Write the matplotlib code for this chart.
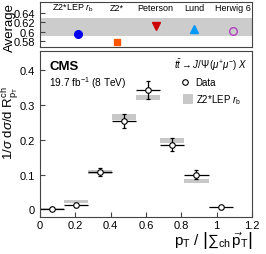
import matplotlib
matplotlib.use("Agg")
import matplotlib.pyplot as plt
import numpy as np

plt.rcParams["font.family"] = ["Liberation Sans", "DejaVu Sans"]
plt.rcParams["mathtext.fontset"] = "custom"
plt.rcParams["mathtext.rm"] = "Liberation Sans"
plt.rcParams["mathtext.it"] = "Liberation Sans:italic"
plt.rcParams["mathtext.bf"] = "Liberation Sans:bold"

# top panel: average of the distribution
models = ["Z2*LEP $r_\\mathrm{b}$", "Z2*", "Peterson", "Lund", "Herwig 6"]
model_avg = [0.596, 0.579, 0.612, 0.6055, 0.6005]
model_err = [0.008, 0.0, 0.0, 0.0, 0.0]
data_avg = 0.609
data_avg_err = 0.019

# bottom panel: normalised distribution
bin_edges = [0.0, 0.1364, 0.2727, 0.4091, 0.5455, 0.6818, 0.8182, 0.9545, 1.0909]
data_vals = [0.002, 0.012, 0.108, 0.253, 0.343, 0.186, 0.100, 0.006]
data_errs = [0.004, 0.006, 0.011, 0.020, 0.025, 0.018, 0.014, 0.005]
mc_vals = [0.002, 0.022, 0.108, 0.265, 0.322, 0.197, 0.081, 0.006]
mc_errs = [0.002, 0.004, 0.006, 0.008, 0.008, 0.007, 0.005, 0.002]

styles = [("o", "#0000ee", "#0000ee", 5.5),
          ("s", "#ff5500", "#ff5500", 5),
          ("v", "#cc0000", "#cc0000", 5.5),
          ("^", "#0099ff", "#0099ff", 5.5),
          ("o", "none", "#b040c0", 5.5)]

fig = plt.figure(figsize=(2.66, 2.55), dpi=100)
ax_top = fig.add_axes([0.150, 0.812, 0.797, 0.176])
ax = fig.add_axes([0.150, 0.145, 0.797, 0.651])

frame = "#444444"
for a in (ax_top, ax):
    for s in a.spines.values():
        s.set_color(frame)
        s.set_linewidth(0.8)
    a.tick_params(direction="in", labelsize=8, color=frame, length=3.5, width=0.8)

# --- top panel
xpos = np.arange(len(models))
ax_top.axhspan(data_avg - data_avg_err, data_avg + data_avg_err, color="#cccccc", lw=0)
for i, (m, fc, ec, ms) in enumerate(styles):
    if model_err[i] > 0:
        ax_top.errorbar(xpos[i], model_avg[i], yerr=model_err[i], fmt="none",
                        ecolor=ec, elinewidth=1)
    ax_top.plot(xpos[i], model_avg[i], marker=m, ms=ms, mfc=fc, mec=ec, mew=1, ls="none")
    ax_top.text(xpos[i] - (0.15 if i == 0 else 0), 0.6505, models[i], ha="center",
                va="center", fontsize=6.5)
ax_top.set_xlim(-1.0, 4.5)
ax_top.set_ylim(0.568, 0.662)
ax_top.set_xticks([])
ax_top.set_yticks([0.58, 0.60, 0.62, 0.64])
ax_top.set_yticklabels(["0.58", "0.6", "0.62", "0.64"])
ax_top.set_ylabel("Average", fontsize=9.5)
ax_top.yaxis.set_label_coords(-0.115, 0.45)

# --- bottom panel
edges = np.array(bin_edges)
centers = 0.5 * (edges[:-1] + edges[1:])
widths = np.diff(edges)
mc_vals = np.array(mc_vals)
mc_errs = np.array(mc_errs)
ax.bar(centers, 2 * mc_errs, bottom=mc_vals - mc_errs, width=widths,
       color="#c8c8c8", lw=0, zorder=1)
ax.errorbar(centers, data_vals, xerr=widths / 2, fmt="none", ecolor="black",
            elinewidth=0.9, zorder=2)
ax.errorbar(centers, data_vals, yerr=data_errs, fmt="none", ecolor="black",
            elinewidth=0.9, capsize=1.5, capthick=0.9, zorder=2)
ax.plot(centers, data_vals, "o", ms=4, mfc="white", mec="black", mew=0.8, zorder=3)

ax.set_xlim(0, 1.2)
ax.set_ylim(-0.022, 0.455)
ax.set_xticks([0, 0.2, 0.4, 0.6, 0.8, 1.0, 1.2])
ax.set_xticklabels(["0", "0.2", "0.4", "0.6", "0.8", "1", "1.2"])
ax.set_yticks([0, 0.1, 0.2, 0.3, 0.4])
ax.set_yticklabels(["0", "0.1", "0.2", "0.3", "0.4"])
ax.tick_params(axis="x", pad=2)

ax.set_ylabel(r"1/$\sigma$ d$\sigma$/d R$^{\mathrm{ch}}_{\mathrm{p_T}}$", fontsize=9.5)
ax.yaxis.set_label_coords(-0.09, 0.57)
fig.text(0.95, 0.055,
         r"$\mathrm{p_T}\ /\ \left|{\sum}_{\mathrm{ch}}\,\vec{\mathrm{p}}_\mathrm{T}\right|$",
         fontsize=11, ha="right", va="center")

ax.text(0.045, 0.91, "CMS", transform=ax.transAxes, fontsize=9.5,
        fontweight="bold", va="center")
ax.text(0.045, 0.813, r"19.7 fb$^{-1}$ (8 TeV)", transform=ax.transAxes,
        fontsize=7.3, va="center")
ax.text(0.98, 0.92, r"$t\bar{t} \rightarrow J/\Psi\,(\mu^{+}\mu^{-})\;X$",
        transform=ax.transAxes, fontsize=7, ha="right", va="center")

# legend
ax.plot([0.82], [0.367], "o", ms=4, mfc="white", mec="black", mew=0.8)
ax.text(0.877, 0.367, "Data", fontsize=7, va="center")
ax.add_patch(plt.Rectangle((0.81, 0.303), 0.056, 0.028, color="#c8c8c8", lw=0))
ax.text(0.883, 0.317, r"Z2*LEP $r_\mathrm{b}$", fontsize=7, va="center")

fig.savefig("out.png", dpi=100)
